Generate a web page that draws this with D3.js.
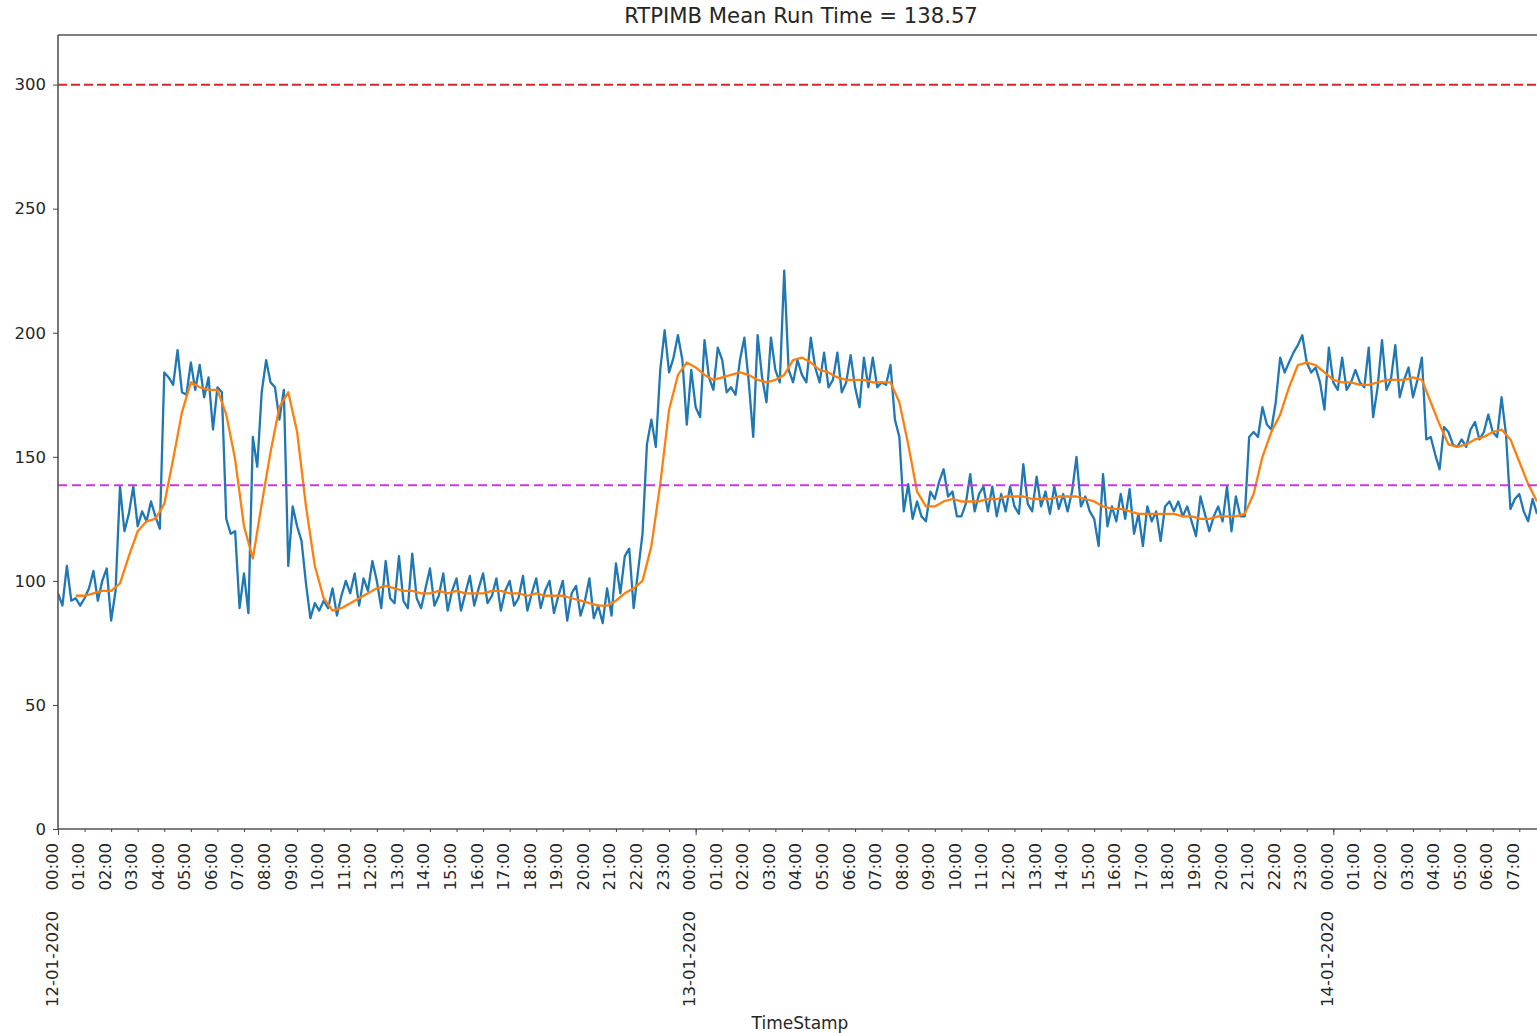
<!DOCTYPE html>
<html>
<head>
<meta charset="utf-8">
<script src="https://cdn.jsdelivr.net/npm/d3@7"></script>
<style>
  body { margin: 0; background: #fff; }
  text { font-family: "DejaVu Sans", sans-serif; fill: #262626; }
</style>
</head>
<body>
<svg id="chart" width="1537" height="1033"></svg>
<script>
const chartTitle = "RTPIMB Mean Run Time = 138.57";
const xLabel = "TimeStamp";
const meanRunTime = 138.57;
const limitLine = 300;
const startTime = new Date(2020, 0, 12, 0, 0);
const endTime = new Date(2020, 0, 14, 7, 40);
const runStepMinutes = 10;
const meanStepMinutes = 20;
const yTicks = [0, 50, 100, 150, 200, 250, 300];

// run time, one value every 10 minutes (one row per hour)
const runTime = [
  95, 90, 106, 92, 93, 90,
  93, 97, 104, 92, 100, 105,
  84, 96, 138, 120, 127, 138,
  122, 128, 124, 132, 126, 121,
  184, 182, 179, 193, 176, 175,
  188, 177, 187, 174, 182, 161,
  178, 176, 125, 119, 120, 89,
  103, 87, 158, 146, 176, 189,
  180, 178, 165, 177, 106, 130,
  122, 116, 99, 85, 91, 88,
  92, 89, 97, 86, 94, 100,
  95, 103, 90, 101, 96, 108,
  100, 89, 108, 93, 91, 110,
  92, 89, 111, 93, 89, 97,
  105, 90, 94, 103, 88, 96,
  101, 88, 95, 102, 90, 97,
  103, 91, 94, 101, 88, 96,
  100, 90, 93, 102, 88, 95,
  101, 89, 96, 100, 87, 94,
  100, 84, 95, 98, 86, 92,
  101, 85, 90, 83, 97, 86,
  107, 95, 110, 113, 89, 104,
  119, 155, 165, 154, 185, 201,
  184, 190, 199, 189, 163, 185,
  170, 166, 197, 182, 177, 194,
  189, 176, 178, 175, 189, 198,
  180, 158, 199, 182, 172, 198,
  185, 180, 225, 185, 180, 189,
  183, 180, 198, 186, 180, 192,
  178, 181, 192, 176, 180, 191,
  178, 170, 190, 178, 190, 178,
  180, 179, 187, 165, 158, 128,
  139, 125, 132, 126, 124, 136,
  133, 140, 145, 134, 136, 126,
  126, 131, 143, 128, 135, 138,
  128, 138, 126, 135, 128, 138,
  130, 127, 147, 131, 128, 142,
  130, 136, 127, 138, 129, 135,
  128, 136, 150, 130, 134, 128,
  125, 114, 143, 122, 130, 124,
  135, 125, 137, 119, 127, 114,
  130, 124, 128, 116, 130, 132,
  128, 132, 126, 130, 124, 118,
  134, 127, 120, 126, 130, 124,
  138, 120, 134, 126, 126, 158,
  160, 158, 170, 163, 161, 172,
  190, 184, 188, 192, 195, 199,
  188, 184, 186, 180, 169, 194,
  180, 177, 190, 177, 180, 185,
  180, 178, 194, 166, 178, 197,
  177, 181, 195, 174, 181, 186,
  174, 181, 190, 157, 158, 151,
  145, 162, 160, 155, 154, 157,
  154, 161, 164, 157, 160, 167,
  160, 158, 174, 159, 129, 133,
  135, 128, 124, 133, 127
];

// rolling mean, one value every 20 minutes (one row per hour)
const rollingMean = [
  null, null, 94,
  94, 95, 96,
  96, 99, 110,
  120, 124, 125,
  131, 149, 168,
  180, 178, 177,
  177, 167, 149,
  122, 109, 131,
  152, 170, 176,
  160, 130, 106,
  93, 88, 89,
  91, 93, 95,
  97, 98, 97,
  96, 96, 95,
  95, 96, 95,
  96, 95, 95,
  95, 96, 96,
  95, 95, 94,
  95, 94, 94,
  94, 93, 92,
  91, 90, 90,
  92, 95, 97,
  100, 114, 139,
  169, 183, 188,
  186, 183, 181,
  182, 183, 184,
  183, 181, 180,
  181, 183, 189,
  190, 188, 185,
  184, 182, 181,
  181, 181, 180,
  180, 180, 172,
  155, 136, 130,
  130, 132, 133,
  132, 132, 132,
  133, 133, 134,
  134, 134, 133,
  133, 133, 134,
  134, 134, 133,
  132, 130, 129,
  129, 128, 127,
  127, 127, 127,
  127, 126, 126,
  125, 125, 126,
  126, 126, 127,
  135, 150, 160,
  167, 178, 187,
  188, 187, 184,
  181, 180, 180,
  179, 179, 180,
  181, 181, 181,
  182, 181, 172,
  163, 155, 154,
  155, 157, 158,
  160, 161, 157,
  148, 139, 132
];

const margin = { top: 35, right: 0, bottom: 204, left: 58 };
const width = 1537, height = 1033;
const plotBottom = height - margin.bottom;

const svg = d3.select("#chart");
svg.append("rect").attr("width", width).attr("height", height).attr("fill", "#fff");

const x = d3.scaleTime().domain([startTime, endTime]).range([margin.left, width - margin.right]);
const y = d3.scaleLinear().domain([0, 320]).range([plotBottom, margin.top]);

const at = (step) => (v, i) => ({ t: d3.timeMinute.offset(startTime, i * step), v });
const runPts = runTime.map(at(runStepMinutes));
const meanPts = rollingMean.map(at(meanStepMinutes));

svg.append("defs").append("clipPath").attr("id", "plot-clip")
  .append("rect")
  .attr("x", margin.left).attr("y", margin.top)
  .attr("width", width - margin.left - margin.right)
  .attr("height", plotBottom - margin.top);

const plot = svg.append("g").attr("clip-path", "url(#plot-clip)");

const line = d3.line()
  .defined(d => d.v != null)
  .x(d => x(d.t))
  .y(d => y(d.v));

plot.append("path").datum(runPts)
  .attr("fill", "none").attr("stroke", "#1f77b4")
  .attr("stroke-width", 2.3).attr("stroke-linejoin", "round")
  .attr("d", line);

plot.append("path").datum(meanPts)
  .attr("fill", "none").attr("stroke", "#ff7f0e")
  .attr("stroke-width", 2.3).attr("stroke-linejoin", "round")
  .attr("d", line);

// threshold + mean lines
plot.append("line")
  .attr("x1", margin.left).attr("x2", width)
  .attr("y1", y(limitLine)).attr("y2", y(limitLine))
  .attr("stroke", "#d62728").attr("stroke-width", 2)
  .attr("stroke-dasharray", "9,4");

plot.append("line")
  .attr("x1", margin.left).attr("x2", width)
  .attr("y1", y(meanRunTime)).attr("y2", y(meanRunTime))
  .attr("stroke", "#c93ad9").attr("stroke-width", 2)
  .attr("stroke-dasharray", "9,5");

// frame
const frame = svg.append("g").attr("stroke", "#555").attr("stroke-width", 1.6);
frame.append("line").attr("x1", margin.left).attr("x2", width).attr("y1", margin.top).attr("y2", margin.top);
frame.append("line").attr("x1", margin.left).attr("x2", width).attr("y1", plotBottom).attr("y2", plotBottom);
frame.append("line").attr("x1", margin.left).attr("x2", margin.left).attr("y1", margin.top).attr("y2", plotBottom);

// y axis
const yAxis = svg.append("g")
  .attr("transform", `translate(${margin.left},0)`)
  .call(d3.axisLeft(y).tickValues(yTicks).tickSize(5).tickPadding(7));
yAxis.select(".domain").remove();
yAxis.selectAll("line").attr("stroke", "#444");
yAxis.selectAll("text").attr("font-size", 16.5).attr("fill", "#262626");

// hourly ticks
const hourAxis = svg.append("g")
  .attr("transform", `translate(0,${plotBottom})`)
  .call(d3.axisBottom(x).ticks(d3.timeHour.every(1)).tickFormat(d3.timeFormat("%H:%M")).tickSize(3));
hourAxis.select(".domain").remove();
hourAxis.selectAll("line").attr("stroke", "#444");
hourAxis.selectAll("text")
  .attr("font-size", 16.5).attr("fill", "#262626")
  .attr("text-anchor", "end").attr("x", 0).attr("y", 0).attr("dy", 0)
  .attr("transform", "translate(-1,14) rotate(-90)");

// day ticks
const dayAxis = svg.append("g")
  .attr("transform", `translate(0,${plotBottom})`)
  .call(d3.axisBottom(x).ticks(d3.timeDay.every(1)).tickFormat(d3.timeFormat("%d-%m-%Y")).tickSize(6));
dayAxis.select(".domain").remove();
dayAxis.selectAll("line").attr("stroke", "#444");
dayAxis.selectAll("text")
  .attr("font-size", 16.5).attr("fill", "#262626")
  .attr("text-anchor", "end").attr("x", 0).attr("y", 0).attr("dy", 0)
  .attr("transform", "translate(-1,82) rotate(-90)");

svg.append("text")
  .attr("x", 801).attr("y", 23)
  .attr("text-anchor", "middle").attr("font-size", 21.2)
  .text(chartTitle);

svg.append("text")
  .attr("x", 800).attr("y", 1029)
  .attr("text-anchor", "middle").attr("font-size", 17)
  .text(xLabel);
</script>
</body>
</html>
